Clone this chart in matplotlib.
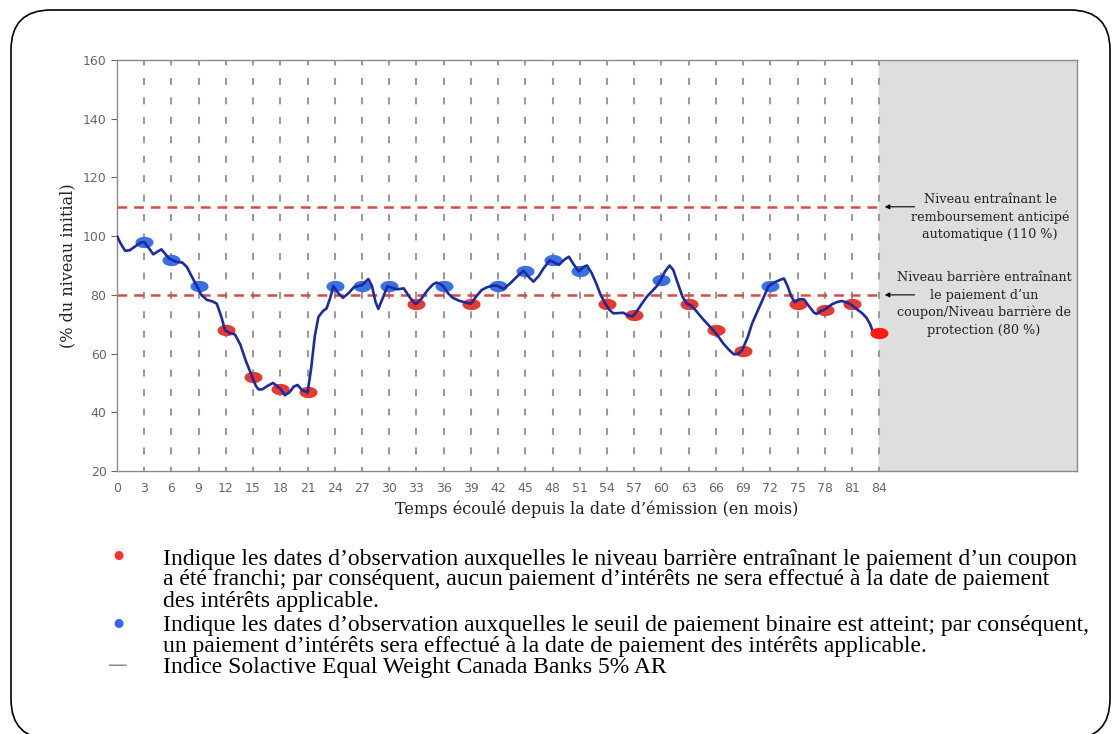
import numpy as np
import matplotlib.pyplot as plt
from matplotlib.patches import FancyBboxPatch

plt.rcParams['lines.scale_dashes'] = False

# index level (% of initial)
months = [0, 0.4, 0.9, 1.4, 2, 2.6, 3, 3.5, 4, 4.5, 4.9, 5.3, 5.7, 6, 6.5, 7.2, 7.7,
          8.2, 8.8, 9.3, 9.9, 10.5, 11, 11.5, 11.9, 12.4, 13, 13.6, 14.2, 14.85, 15.3,
          15.6, 16, 16.6, 17.2, 17.6, 18, 18.5, 19, 19.5, 19.9, 20.4, 21, 21.4, 21.8,
          22.2, 22.7, 23.1, 23.5, 23.85, 24.4, 24.9, 25.5, 26.1, 27, 27.4, 27.7, 28.1,
          28.5, 28.8, 29.3, 29.8, 30.4, 30.9, 31.6, 32.3, 32.9, 33.5, 34.2, 34.8, 35.2,
          35.6, 36, 36.5, 37, 37.7, 38.5, 39, 39.6, 40.2, 40.8, 41.5, 42, 42.6, 43.3,
          44, 44.8, 45.4, 45.9, 46.5, 47, 47.7, 48.2, 48.7, 49.3, 49.8, 50.3, 50.9,
          51.4, 51.8, 52.3, 52.8, 53.3, 53.8, 54.3, 54.7, 55.3, 55.8, 56.3, 56.8, 57.2,
          57.8, 58.4, 59.1, 59.5, 59.9, 60.4, 60.9, 61.3, 61.8, 62.3, 62.8, 63.2, 63.7,
          64.5, 65.1, 65.7, 66.3, 66.8, 67.4, 68, 68.5, 68.9, 69.5, 70, 70.6, 71.1,
          71.5, 71.8, 72.5, 73, 73.5, 73.9, 74.3, 74.7, 75.2, 75.7, 76.3, 76.8, 77.1,
          77.6, 78, 78.8, 79.4, 79.9, 80.4, 80.8, 81.5, 82.1, 82.6, 83, 83.3, 84]
level = [100, 97.5, 95, 95.2, 96.5, 97.8, 98, 96, 93.8, 94.8, 95.5, 94, 92.5, 92, 91.3,
         91, 89.5, 86.5, 83, 80, 78.3, 77.8, 77, 72.5, 68, 67, 66.5, 63, 57.5, 52.5, 49,
         47.8, 47.8, 49, 50, 49, 48, 45.8, 46.8, 48.8, 49.3, 47.5, 46.8, 55, 66,
         72.5, 74.5, 75.4, 79, 83, 80.5, 79, 80.5, 82.6, 83.3, 84.5, 85.4, 83,
         77.5, 75.2, 79, 83, 82.3, 81.9, 82.2, 79, 76.8, 78.5, 81.5, 83.5, 84.2,
         83.8, 82.8, 80.5, 79, 78, 77.3, 77, 79.5, 81.7, 82.6, 83.2, 83, 82, 83.8,
         86, 88.2, 86, 84.5, 86.5, 89, 91.8, 91, 90.2, 92, 93, 90.5, 88,
         89.5, 90, 87.5, 84, 80, 77.1, 74.8, 73.7, 73.8, 73.9, 73, 72.6, 74,
         76.8, 79.4, 81.7, 83, 85, 88, 90, 88.5, 84, 79.5, 77, 76.5, 75,
         72, 70, 68, 65.7, 63.5, 61.4, 59.7, 60, 61.2, 65.5, 70.3, 74.5, 78,
         80.8, 83, 84.3, 85, 85.6, 83, 79.5, 77.5, 78.5, 78.5, 76, 74, 73.5,
         74.5, 75, 76.8, 77.6, 77.9, 77.4, 76.9, 75.2, 73.8, 72.2, 70, 67.5, 67]

# observation dates
blue_months = [3, 6, 9, 24, 27, 30, 36, 42, 45, 48, 51, 60, 72]
blue_vals = [98, 92, 83, 83, 83, 83, 83, 83, 88, 92, 88, 85, 83]
red_months = [12, 15, 18, 21, 33, 39, 54, 57, 63, 66, 69, 75, 78, 81]
red_vals = [68, 52, 48, 47, 77, 77, 77, 73, 77, 68, 61, 77, 75, 77]
final_month = [84]
final_val = [67]

xticks = list(range(0, 85, 3))
yticks = list(range(20, 161, 20))

autocall_level = 110
barrier_level = 80

fig = plt.figure(figsize=(11.16, 7.34), dpi=100)
ax = fig.add_axes([117 / 1116, 1 - 471 / 734, 960 / 1116, 411 / 734])

ax.set_xlim(0, 105.8)
ax.set_ylim(20, 160)
ax.axvspan(84, 105.8, color='#dedede', zorder=0)

for m in xticks[1:]:
    ax.axvline(m, color='#9a9a9a', lw=1.5, linestyle=(2, (5, 9)), zorder=1)

ax.axhline(autocall_level, xmax=84 / 105.8, color='#d84a45', lw=1.8,
           linestyle=(0, (7, 5)), zorder=2)
ax.axhline(barrier_level, xmax=84 / 105.8, color='#d84a45', lw=1.8,
           linestyle=(0, (7, 5)), zorder=2)

t = np.linspace(0, 2 * np.pi, 40)
ellipse = np.column_stack([1.6 * np.cos(t), np.sin(t)])

ax.plot(blue_months, blue_vals, linestyle='none', marker=ellipse, markersize=13,
        color='#3a70e6', markeredgewidth=0, zorder=3)
ax.plot(red_months, red_vals, linestyle='none', marker=ellipse, markersize=13,
        color='#e8392e', markeredgewidth=0, zorder=3)
ax.plot(months, level, color='#1c2b9f', lw=1.9, zorder=4,
        solid_joinstyle='round', solid_capstyle='round')
ax.plot(final_month, final_val, linestyle='none', marker=ellipse, markersize=13,
        color='#ff1a10', markeredgewidth=0, zorder=5)

ax.set_xticks(xticks)
ax.set_yticks(yticks)
ax.tick_params(axis='both', colors='#666666', labelsize=9, length=4, width=0.8)
ax.tick_params(axis='x', length=0, pad=8)
for s in ax.spines.values():
    s.set_color('#8a8a8a')
    s.set_linewidth(1)

ax.set_ylabel('(% du niveau initial)', family='DejaVu Serif', fontsize=11.5,
              color='#222222')
ax.yaxis.set_label_coords(-0.042, 0.5)
ax.text(0.5, -0.092, 'Temps écoulé depuis la date d’émission (en mois)',
        transform=ax.transAxes, ha='center', va='center',
        family='DejaVu Serif', fontsize=11.5, color='#222222')

# annotations in the grey zone
ax.annotate('', xy=(84.3, autocall_level), xytext=(88.2, autocall_level),
            arrowprops=dict(arrowstyle='-|>', color='black', lw=0.8,
                            mutation_scale=7))
ax.annotate('', xy=(84.3, barrier_level), xytext=(88.2, barrier_level),
            arrowprops=dict(arrowstyle='-|>', color='black', lw=0.8,
                            mutation_scale=7))
fig.text(990 / 1116, 1 - 217 / 734,
         'Niveau entraînant le\nremboursement anticipé\nautomatique (110 %)',
         ha='center', va='center', family='DejaVu Serif', fontsize=9.2,
         linespacing=1.42, color='#222222')
fig.text(984 / 1116, 1 - 304 / 734,
         'Niveau barrière entraînant\nle paiement d’un\ncoupon/Niveau barrière de\nprotection (80 %)',
         ha='center', va='center', family='DejaVu Serif', fontsize=9.2,
         linespacing=1.42, color='#222222')

# legend below the chart
leg_font = dict(family='Liberation Serif', fontsize=17, color='black',
                va='center', ha='left', linespacing=1.0)
fig.text(118 / 1116, 1 - 558 / 734, '•', color='#ff3030', fontsize=22,
         ha='center', va='center')
fig.text(118 / 1116, 1 - 626 / 734, '•', color='#3366ee', fontsize=22,
         ha='center', va='center')
fig.text(118 / 1116, 1 - 665 / 734, '—', color='#888888', fontsize=14,
         ha='center', va='center')
fig.text(163 / 1116, 1 - 580 / 734,
         'Indique les dates d’observation auxquelles le niveau barrière entraînant le paiement d’un coupon\n'
         'a été franchi; par conséquent, aucun paiement d’intérêts ne sera effectué à la date de paiement\n'
         'des intérêts applicable.', **leg_font)
fig.text(163 / 1116, 1 - 636 / 734,
         'Indique les dates d’observation auxquelles le seuil de paiement binaire est atteint; par conséquent,\n'
         'un paiement d’intérêts sera effectué à la date de paiement des intérêts applicable.', **leg_font)
fig.text(163 / 1116, 1 - 668 / 734,
         'Indice Solactive Equal Weight Canada Banks 5% AR', **leg_font)

# rounded frame around everything
frame = FancyBboxPatch((11, -5), 1099, 729, boxstyle='round,pad=0,rounding_size=40',
                       transform=None, fill=False, edgecolor='black', lw=1.2)
fig.add_artist(frame)

fig.savefig('out.png', dpi=100)
